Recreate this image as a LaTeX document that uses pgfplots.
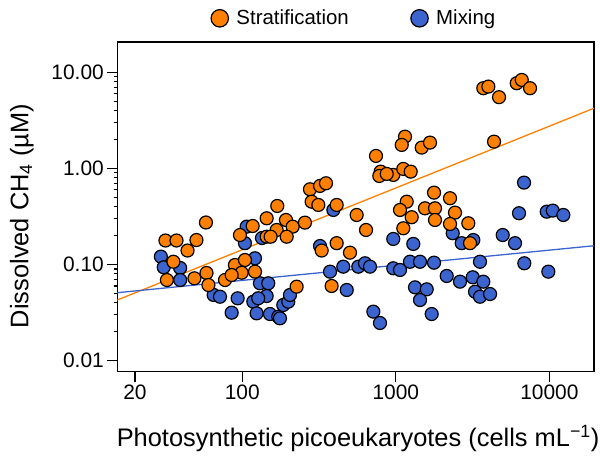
\documentclass[border=0pt]{standalone}
\usepackage{fontspec}
\setmainfont{Liberation Sans}
\usepackage{pgfplots}
\pgfplotsset{compat=1.18}
\definecolor{sorange}{RGB}{255,128,0}
\definecolor{mblue}{RGB}{59,100,207}
\begin{document}
\begin{tikzpicture}
\useasboundingbox (0,0) rectangle (600bp,459bp);
\begin{axis}[
  at={(117.3bp,87.3bp)}, anchor=south west,
  width=476.7bp, height=329.7bp, scale only axis,
  xmode=log, ymode=log,
  xmin=15.35, xmax=19543, ymin=0.00769, ymax=20.65,
  xtick={20,100,1000,10000}, xticklabels={20,100,1000,10000},
  ytick={0.01,0.1,1,10}, yticklabels={0.01,0.10,1.00,10.00},
  minor xtick={}, minor ytick={},
  tick align=outside, major tick length=10bp, tick pos=left,
  axis line style={line width=1.2bp},
  every tick/.style={black, line width=1.2bp},
  tick label style={font=\fontsize{21}{25}\selectfont},
  xlabel={Photosynthetic picoeukaryotes (cells mL\textsuperscript{−1})},
  ylabel={Dissolved CH\textsubscript{4} (µM)},
  every axis x label/.style={at={(axis description cs:0.505,-0.2254)}, anchor=base, font=\fontsize{25.5}{30}\selectfont},
  every axis y label/.style={at={(axis description cs:-0.1867,0.472)}, anchor=base, rotate=90, font=\fontsize{25.5}{30}\selectfont},
  legend style={at={(axis description cs:0.5,1)}, anchor=center, yshift=23.7bp, xshift=-1.5bp, draw=none, fill=none,
    font=\fontsize{20.5}{24}\selectfont, legend columns=2,
    /tikz/every odd column/.append style={column sep=6bp},
    /tikz/every even column/.append style={column sep=60bp}},
  legend cell align=left,
  legend image code/.code={\draw[#1, mark size=8.7bp] plot coordinates {(0bp,0bp)};},
  clip=true,
]
\addlegendimage{only marks, mark=*, mark options={fill=sorange, draw=black, line width=1.2bp}}
\addlegendentry{Stratification}
\addlegendimage{only marks, mark=*, mark options={fill=mblue, draw=black, line width=1.2bp}}
\addlegendentry{Mixing}

% Mixing
\addplot[forget plot, only marks, mark=*, mark size=6.5bp, mark options={fill=mblue, draw=black, line width=1.2bp}] coordinates {
(29.5,0.121) (30.8,0.0937) (39.4,0.0922) (39.4,0.0691) (65.1,0.0483) (71.6,0.0463)
(93.3,0.0446) (85.3,0.0316) (118,0.0411) (124,0.0311) (130.4,0.0639) (147.7,0.0639)
(144.2,0.0471) (151.5,0.0306) (171.6,0.0287) (176,0.0276) (185,0.0380) (199.4,0.0411)
(204.5,0.0483) (127,0.0446) (106.8,0.248) (104.1,0.167) (121,0.1163) (134.4,0.189)
(321,0.156) (392,0.370) (373,0.0844) (455,0.0951) (570,0.0951) (630,0.1032)
(679,0.0951) (479,0.0544) (714,0.0324) (789,0.0247) (963,0.1847) (1300,0.164)
(963,0.0915) (1065,0.0879) (1237,0.107) (1438,0.107) (1774,0.1046) (2146,0.0761)
(2619,0.0664) (3170,0.0738) (3281,0.0522) (3535,0.0463) (3715,0.0664) (3535,0.107)
(1334,0.058) (1590,0.0553) (1438,0.0428) (1713,0.0306) (2348,0.212) (2687,0.167)
(3198,0.180) (4110,0.0494) (6842,0.712) (6347,0.342) (9617,0.355) (10523,0.364)
(12335,0.328) (4970,0.203) (5978,0.167) (6871,0.1032) (9851,0.0844)
};
% Stratification
\addplot[forget plot, only marks, mark=*, mark size=6.5bp, mark options={fill=sorange, draw=black, line width=1.2bp}] coordinates {
(31.6,0.178) (37.3,0.178) (50.3,0.180) (44.0,0.140) (35.6,0.107) (32.3,0.0691)
(48.8,0.0720) (58.5,0.0818) (60.2,0.0613) (58.0,0.274) (77.2,0.0691) (89.6,0.0990)
(104.1,0.1116) (99.1,0.0823) (85.3,0.0779) (121,0.0844) (96.6,0.203) (116.9,0.252)
(144.2,0.303) (144.2,0.195) (169.1,0.407) (192.6,0.291) (167.5,0.229) (213,0.248)
(256,0.273) (153,0.195) (194.7,0.195) (226,0.0589) (276,0.607) (321,0.658)
(351,0.701) (283,0.451) (313,0.417) (412,0.417) (556,0.328) (640,0.229)
(329,0.140) (412,0.167) (503,0.133) (382,0.0599) (743,1.349) (797,0.926)
(781,0.835) (963,0.856) (1119,0.988) (1250,0.926) (1148,2.14) (1093,1.756)
(1475,1.646) (1670,1.856) (1178,0.451) (1065,0.370) (1269,0.311) (1119,0.2385)
(1549,0.385) (1774,0.560) (1800,0.385) (1800,0.291) (2255,0.490) (2430,0.347)
(2255,0.2645) (2967,0.269) (3044,0.167) (3715,6.83) (4006,7.10) (4702,5.51)
(6133,7.70) (6610,8.33) (7487,6.83) (4363,1.90) (873,0.877)
};
% fitted lines
\addplot[forget plot, sorange, line width=1.3bp] coordinates {(15.35,0.0428) (19543,4.23)};
\addplot[forget plot, mblue, line width=1.3bp] coordinates {(15.35,0.0510) (19543,0.157)};
\end{axis}
\end{tikzpicture}
\end{document}
